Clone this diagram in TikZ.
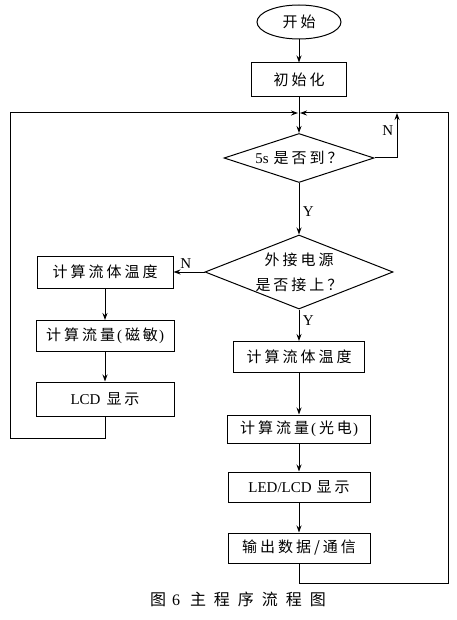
\documentclass[tikz,border=0pt]{standalone}
\usepackage{fontspec}
\setmainfont{Liberation Serif}
\newfontfamily\cjk[LetterSpace=20]{Noto Sans CJK SC}
\newfontfamily\cjkwide[LetterSpace=50]{Noto Sans CJK SC}
\usetikzlibrary{shapes.geometric, positioning, arrows.meta}

\begin{document}
\begin{tikzpicture}[x=1pt, y=-1pt, on grid, line width=1pt,
    >={Stealth[length=7pt, width=5pt]},
    every node/.style={font=\fontsize{15}{24}\selectfont},
    terminal/.style={draw, ellipse, minimum width=84pt, minimum height=34pt, inner sep=0pt},
    process/.style={draw, rectangle, minimum height=31pt, inner sep=0pt},
    decision/.style={draw, diamond, aspect=3, inner sep=0pt}]

    \useasboundingbox (0,0) rectangle (456,620);

    % main column
    \node[terminal] (start) at (299,22) {\cjk 开始};
    \node[process, minimum width=95pt, minimum height=34pt, below=58pt of start] (init) {\cjk 初始化};
    \node[decision, minimum width=150pt, minimum height=49pt, below=78pt of init] (wait) {5s\hspace{5pt}{\cjk 是否到？}};
    \node[decision, aspect=2.54, inner sep=-6pt, minimum width=188pt, minimum height=74pt, below=114pt of wait,
        align=center, font=\fontsize{15}{25}\selectfont\cjk] (power) {外接电源\\是否接上？};
    \node[process, minimum width=131pt, below=85pt of power] (optemp) {\cjk 计算流体温度};
    \node[process, minimum width=143pt, minimum height=28pt, below=72pt of optemp] (opflow)
        {{\cjk 计算流量}\hspace{2pt}(\hspace{3pt}{\cjk 光电}\hspace{1pt})};
    \node[process, minimum width=142pt, minimum height=30pt, below=58pt of opflow] (ledlcd) {LED/LCD\hspace{5pt}{\cjk 显示}};
    \node[process, minimum width=142pt, minimum height=30pt, below=61pt of ledlcd] (output) {\cjk 输出数据/通信};

    % left column
    \node[process, minimum width=136pt, minimum height=32pt, left=194pt of power] (magtemp) {\cjk 计算流体温度};
    \node[process, minimum width=138pt, below=64pt of magtemp] (magflow)
        {{\cjk 计算流量}\hspace{2pt}(\hspace{3pt}{\cjk 磁敏}\hspace{1pt})};
    \node[process, minimum width=138pt, minimum height=34pt, below=63pt of magflow] (lcd) {LCD\hspace{6pt}{\cjk 显示}};

    \node[font=\fontsize{16}{20}\selectfont] (caption) at (238,599)
        {{\cjkwide 图}\hspace{6pt}6\hspace{10pt}{\cjkwide 主程序流程图}};

    % loop points
    \coordinate (join) at (299,113);
    \coordinate (nback) at (397,113);
    \coordinate (lbot) at (10,438);
    \coordinate (rbot) at (448,583);

    % connectors
    \draw[->] (start) -- (init);
    \draw (init) -- (join);
    \draw[->] (join) -- (wait);
    \draw[->] (wait.east) -| node[pos=0.8, left]{N} (nback);
    \draw[->] (wait) -- node[right, pos=0.55]{Y} (power);
    \draw[->] (power.west) -- node[above, pos=0.6]{N} (magtemp.east);
    \draw[->] (power) -- node[right, pos=0.35]{Y} (optemp);
    \draw[->] (optemp) -- (opflow);
    \draw[->] (opflow) -- (ledlcd);
    \draw[->] (ledlcd) -- (output);
    \draw[->] (magtemp) -- (magflow);
    \draw[->] (magflow) -- (lcd);
    \draw[->, shorten >=1pt] (lcd.south) |- (lbot) |- (join);
    \draw[->, shorten >=1pt] (output.south) |- (rbot) |- (join);

\end{tikzpicture}
\end{document}
